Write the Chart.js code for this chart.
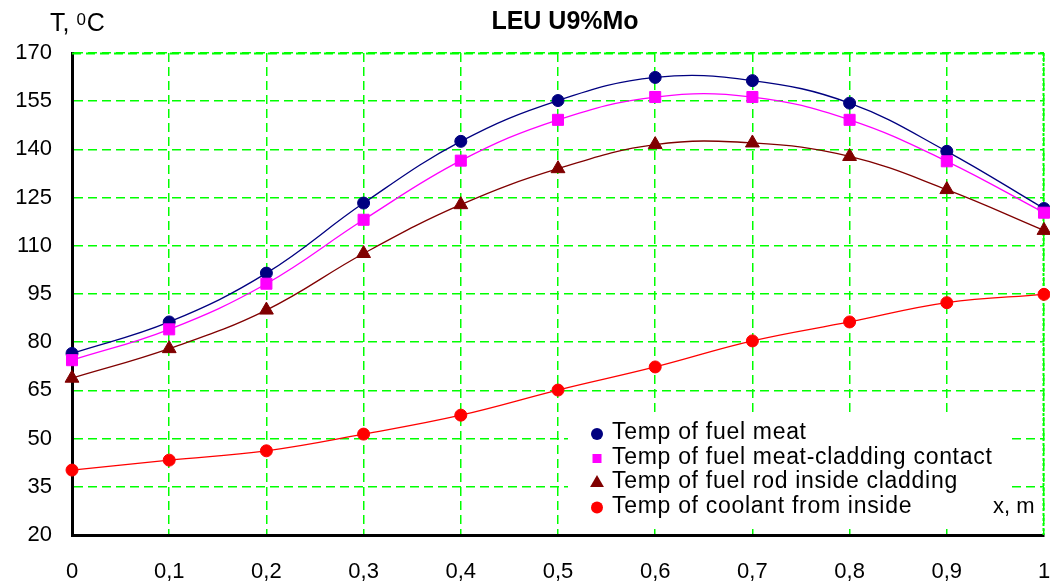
<!DOCTYPE html>
<html>
<head>
<meta charset="utf-8">
<script src="https://cdn.jsdelivr.net/npm/chart.js@4"></script>
<style>
  html, body { margin: 0; padding: 0; background: #fff; }
  #wrap { width: 1050px; height: 584px; }
</style>
</head>
<body>
<div id="wrap"><canvas id="c" width="1050" height="584"></canvas></div>
<script>
const xValues = [0, 0.1, 0.2, 0.3, 0.4, 0.5, 0.6, 0.7, 0.8, 0.9, 1];
const fuelMeat = [76.5, 86.3, 101.5, 123.3, 142.5, 155.2, 162.4, 161.4, 154.4, 139.4, 121.6];
const meatCladContact = [74.4, 84.0, 98.2, 118.1, 136.5, 149.2, 156.3, 156.3, 149.2, 136.3, 120.3];
const rodInsideClad = [68.8, 78.0, 90.0, 107.6, 122.8, 134.0, 141.5, 142.0, 137.8, 127.5, 114.8];
const coolantInside = [40.2, 43.3, 46.2, 51.4, 57.3, 65.1, 72.3, 80.4, 86.3, 92.3, 94.9];
const seriesLabels = [
  'Temp of fuel meat',
  'Temp of fuel meat-cladding contact',
  'Temp of fuel rod inside cladding',
  'Temp of coolant from inside'
];
const yTicks = [20, 35, 50, 65, 80, 95, 110, 125, 140, 155, 170];
const chartTitle = 'LEU U9%Mo';
const yTitle = ['T, ', '0', 'C'];
const xTitle = 'x, m';

const FONT = "'Liberation Sans', Arial, sans-serif";
const colors = ['#000080', '#ff00ff', '#800000', '#ff0000'];
const styles = ['circle', 'rect', 'triangle', 'circle'];
const radii = [6, 7.8, 8, 6];
const seriesData = [fuelMeat, meatCladContact, rodInsideClad, coolantInside];
const gridColor = '#00ff00';

const datasets = seriesData.map((arr, i) => ({
  label: seriesLabels[i],
  data: xValues.map((x, j) => ({x: x, y: arr[j]})),
  borderColor: colors[i],
  backgroundColor: colors[i],
  pointBackgroundColor: colors[i],
  pointBorderColor: colors[i],
  pointBorderWidth: 1,
  pointStyle: styles[i],
  pointRadius: radii[i],
  borderWidth: 1.3,
  tension: 0.4,
  fill: false,
  clip: false,
  order: 4 - i
}));

const boxPlugin = {
  id: 'legendBox',
  beforeDatasetsDraw(chart) {
    const ctx = chart.ctx;
    const a = chart.chartArea;
    ctx.save();
    ctx.strokeStyle = gridColor;
    ctx.lineWidth = 2;
    ctx.setLineDash([9, 5]);
    ctx.beginPath();
    ctx.moveTo(a.left, a.top + 0.5);
    ctx.lineTo(a.right, a.top + 0.5);
    ctx.stroke();
    ctx.setLineDash([3, 2]);
    ctx.beginPath();
    ctx.moveTo(a.right - 0.5, a.top);
    ctx.lineTo(a.right - 0.5, a.bottom);
    ctx.stroke();
    ctx.fillStyle = '#fff';
    ctx.fillRect(568, 414, 442, 113);
    ctx.restore();
  }
};

const textPlugin = {
  id: 'texts',
  afterDraw(chart) {
    const ctx = chart.ctx;
    ctx.save();
    ctx.fillStyle = '#000';
    ctx.textBaseline = 'alphabetic';
    ctx.font = 'bold 25px ' + FONT;
    ctx.textAlign = 'center';
    ctx.fillText(chartTitle, 565, 29);
    ctx.textAlign = 'left';
    ctx.font = '25px ' + FONT;
    let x = 50;
    ctx.fillText(yTitle[0], x, 31);
    x += ctx.measureText(yTitle[0]).width;
    ctx.font = '17px ' + FONT;
    ctx.fillText(yTitle[1], x, 25);
    x += ctx.measureText(yTitle[1]).width + 1;
    ctx.font = '25px ' + FONT;
    ctx.fillText(yTitle[2], x, 31);
    ctx.font = '22px ' + FONT;
    ctx.fillText(xTitle, 993, 513);
    const rows = [434, 458.5, 483, 507.5];
    const lr = [6, 4.5, 8, 6];
    for (let i = 0; i < 4; i++) {
      const cy = rows[i], cx = 597;
      ctx.fillStyle = colors[i];
      ctx.beginPath();
      if (styles[i] === 'circle') {
        ctx.arc(cx, cy, lr[i], 0, Math.PI * 2);
      } else if (styles[i] === 'rect') {
        ctx.rect(cx - lr[i], cy - lr[i], lr[i] * 2, lr[i] * 2);
      } else {
        ctx.moveTo(cx, cy - lr[i]);
        ctx.lineTo(cx + lr[i] * 0.866, cy + lr[i] * 0.5);
        ctx.lineTo(cx - lr[i] * 0.866, cy + lr[i] * 0.5);
        ctx.closePath();
      }
      ctx.fill();
      ctx.fillStyle = '#000';
      ctx.font = '23px ' + FONT;
      try { ctx.letterSpacing = '0.7px'; } catch (e) {}
      ctx.fillText(seriesLabels[i], 612, cy + 5);
      try { ctx.letterSpacing = '0px'; } catch (e) {}
    }
    ctx.restore();
  }
};

new Chart(document.getElementById('c'), {
  type: 'line',
  data: { datasets: datasets },
  plugins: [boxPlugin, textPlugin],
  options: {
    responsive: false,
    animation: false,
    events: [],
    layout: { autoPadding: false, padding: { top: 53, right: 6, left: 0, bottom: 0 } },
    plugins: { legend: { display: false }, title: { display: false }, tooltip: { enabled: false } },
    scales: {
      x: {
        type: 'linear',
        min: 0, max: 1,
        afterFit(scale) { scale.height = 49; scale.paddingLeft = 0; scale.paddingRight = 0; },
        afterBuildTicks(scale) { scale.ticks = xValues.map(v => ({value: v})); },
        ticks: {
          color: '#000',
          font: { family: FONT, size: 22 },
          padding: 24,
          maxRotation: 0,
          autoSkip: false,
          callback(v) {
            if (Math.abs(v) < 1e-9) return '0';
            if (Math.abs(v - 1) < 1e-9) return '1';
            return v.toFixed(1).replace('.', ',');
          }
        },
        grid: { color: gridColor, lineWidth: 1.5, drawTicks: false },
        border: { display: true, color: '#000', width: 3, dash: [9, 5] }
      },
      y: {
        type: 'linear',
        min: 20, max: 170,
        afterFit(scale) { scale.width = 72; scale.paddingTop = 0; scale.paddingBottom = 0; },
        afterBuildTicks(scale) { scale.ticks = yTicks.map(v => ({value: v})); },
        ticks: {
          color: '#000',
          font: { family: FONT, size: 22 },
          padding: 20,
          autoSkip: false
        },
        grid: { color: gridColor, lineWidth: 1.5, drawTicks: false },
        border: { display: true, color: '#000', width: 3, dash: [9, 5] }
      }
    }
  }
});
</script>
</body>
</html>
